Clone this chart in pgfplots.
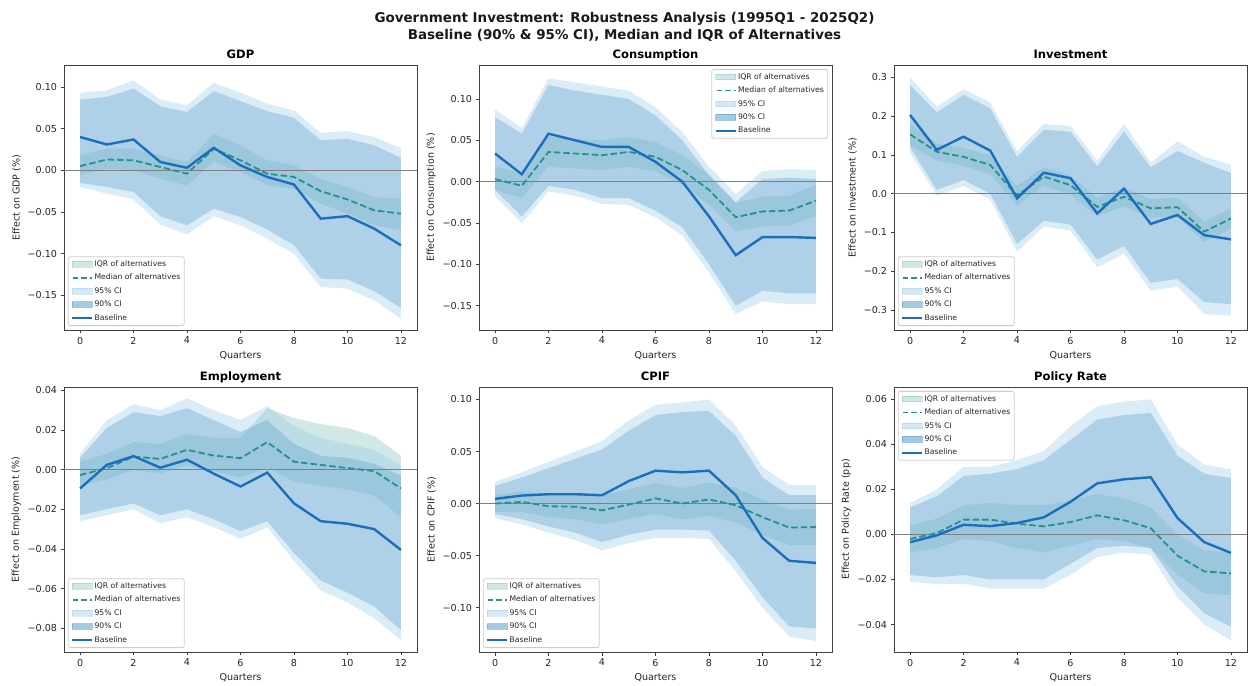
\documentclass[border=0pt]{standalone}
\usepackage{fontspec}
\setmainfont{DejaVu Sans}
\usepackage{pgfplots}
\usepackage{pgfplotstable}
\usepgfplotslibrary{fillbetween}
\pgfplotsset{compat=1.18}

\definecolor{ci95}{RGB}{150,200,230}
\definecolor{ci90}{RGB}{80,150,200}
\definecolor{iqrc}{RGB}{102,180,170}
\definecolor{medc}{RGB}{38,145,140}
\definecolor{basec}{RGB}{28,110,188}

\pgfplotstableread{
x l95 u95 l90 u90 liq uiq med base
0 -0.020 0.093 -0.015 0.085 -0.006 0.018 0.005 0.040
1 -0.028 0.096 -0.020 0.088 0.002 0.026 0.013 0.031
2 -0.035 0.108 -0.026 0.098 0.000 0.026 0.012 0.037
3 -0.065 0.085 -0.055 0.077 -0.010 0.018 0.004 0.010
4 -0.077 0.078 -0.066 0.070 -0.018 0.010 -0.004 0.003
5 -0.055 0.105 -0.046 0.095 0.010 0.044 0.026 0.027
6 -0.066 0.093 -0.056 0.083 -0.002 0.030 0.012 0.006
7 -0.082 0.080 -0.071 0.071 -0.018 0.012 -0.004 -0.008
8 -0.100 0.072 -0.090 0.063 -0.022 0.006 -0.008 -0.017
9 -0.140 0.045 -0.130 0.036 -0.040 -0.010 -0.025 -0.058
10 -0.142 0.047 -0.131 0.038 -0.052 -0.020 -0.035 -0.055
11 -0.156 0.040 -0.145 0.030 -0.066 -0.032 -0.048 -0.070
12 -0.178 0.027 -0.165 0.015 -0.072 -0.034 -0.052 -0.090
}\gdp

\pgfplotstableread{
x l95 u95 l90 u90 liq uiq med base
0 -0.018 0.087 -0.010 0.078 -0.010 0.018 0.003 0.034
1 -0.050 0.065 -0.042 0.058 -0.020 0.010 -0.005 0.009
2 -0.012 0.125 -0.005 0.117 0.018 0.055 0.036 0.058
3 -0.017 0.120 -0.010 0.110 0.016 0.052 0.034 0.050
4 -0.027 0.115 -0.020 0.105 0.014 0.050 0.032 0.042
5 -0.028 0.110 -0.020 0.100 0.018 0.054 0.036 0.042
6 -0.043 0.090 -0.035 0.080 0.012 0.048 0.030 0.024
7 -0.065 0.060 -0.055 0.050 -0.004 0.032 0.014 0.000
8 -0.110 0.018 -0.100 0.008 -0.028 0.008 -0.010 -0.042
9 -0.160 -0.015 -0.150 -0.025 -0.060 -0.026 -0.043 -0.089
10 -0.145 0.013 -0.132 0.003 -0.054 -0.018 -0.036 -0.067
11 -0.148 0.015 -0.135 0.005 -0.053 -0.017 -0.035 -0.067
12 -0.148 0.014 -0.135 0.003 -0.042 -0.004 -0.023 -0.068
}\cons

\pgfplotstableread{
x l95 u95 l90 u90 liq uiq med base
0 0.105 0.300 0.120 0.280 0.125 0.180 0.153 0.203
1 -0.005 0.225 0.010 0.210 0.085 0.130 0.108 0.113
2 0.020 0.270 0.035 0.255 0.072 0.118 0.095 0.147
3 -0.015 0.235 0.000 0.220 0.050 0.098 0.074 0.111
4 -0.150 0.110 -0.130 0.095 -0.030 0.020 -0.005 -0.012
5 -0.085 0.180 -0.070 0.165 0.020 0.068 0.044 0.054
6 -0.095 0.175 -0.080 0.160 -0.002 0.046 0.022 0.040
7 -0.190 0.085 -0.170 0.070 -0.058 -0.010 -0.034 -0.051
8 -0.155 0.180 -0.135 0.160 -0.032 0.016 -0.008 0.013
9 -0.250 0.080 -0.230 0.068 -0.062 -0.014 -0.038 -0.078
10 -0.240 0.135 -0.220 0.110 -0.060 -0.010 -0.035 -0.055
11 -0.310 0.095 -0.280 0.080 -0.125 -0.072 -0.098 -0.107
12 -0.315 0.075 -0.285 0.053 -0.090 -0.038 -0.064 -0.118
}\inv

\pgfplotstableread{
x l95 u95 l90 u90 liq uiq med base
0 -0.026 0.008 -0.023 0.006 -0.008 0.004 -0.0027 -0.0095
1 -0.023 0.025 -0.020 0.021 -0.005 0.008 0.0007 0.0024
2 -0.020 0.033 -0.017 0.029 0.000 0.014 0.0066 0.0068
3 -0.027 0.030 -0.023 0.027 -0.002 0.013 0.0054 0.0010
4 -0.024 0.036 -0.020 0.031 0.002 0.018 0.0100 0.0050
5 -0.029 0.030 -0.025 0.025 -0.001 0.016 0.0071 -0.0020
6 -0.035 0.025 -0.031 0.019 -0.004 0.016 0.0058 -0.0085
7 -0.029 0.032 -0.026 0.025 0.001 0.031 0.0139 -0.0015
8 -0.046 0.022 -0.042 0.013 -0.006 0.026 0.0040 -0.0170
9 -0.061 0.016 -0.056 0.007 -0.008 0.023 0.0024 -0.0260
10 -0.067 0.013 -0.062 0.006 -0.010 0.021 0.0008 -0.0273
11 -0.075 0.010 -0.069 0.003 -0.013 0.017 -0.0007 -0.0300
12 -0.086 0.002 -0.081 -0.003 -0.024 0.007 -0.0095 -0.0405
}\emp

\pgfplotstableread{
x l95 u95 l90 u90 liq uiq med base
0 -0.014 0.021 -0.010 0.017 -0.008 0.008 0.000 0.0045
1 -0.020 0.030 -0.015 0.025 -0.008 0.012 0.0016 0.0077
2 -0.028 0.040 -0.022 0.034 -0.013 0.009 -0.0026 0.0090
3 -0.035 0.050 -0.028 0.043 -0.015 0.010 -0.0030 0.0090
4 -0.045 0.060 -0.037 0.052 -0.020 0.008 -0.0065 0.0080
5 -0.038 0.080 -0.030 0.070 -0.015 0.014 -0.0010 0.0216
6 -0.033 0.095 -0.025 0.085 -0.010 0.020 0.0050 0.0316
7 -0.033 0.097 -0.025 0.088 -0.015 0.015 0.0000 0.0300
8 -0.034 0.100 -0.026 0.089 -0.012 0.020 0.0040 0.0316
9 -0.065 0.075 -0.055 0.065 -0.018 0.015 -0.0016 0.0080
10 -0.100 0.035 -0.090 0.025 -0.030 0.004 -0.0130 -0.0330
11 -0.128 0.018 -0.118 0.008 -0.040 -0.006 -0.0230 -0.0550
12 -0.132 0.018 -0.120 0.008 -0.040 -0.005 -0.0226 -0.0570
}\cpif

\pgfplotstableread{
x l95 u95 l90 u90 liq uiq med base
0 -0.021 0.014 -0.018 0.012 -0.008 0.004 -0.0020 -0.0034
1 -0.022 0.020 -0.019 0.017 -0.006 0.007 0.0006 -0.0004
2 -0.022 0.030 -0.018 0.026 -0.002 0.013 0.0066 0.0043
3 -0.024 0.030 -0.020 0.027 -0.003 0.014 0.0066 0.0037
4 -0.024 0.033 -0.020 0.029 -0.006 0.013 0.0048 0.0051
5 -0.024 0.037 -0.020 0.033 -0.008 0.013 0.0036 0.0076
6 -0.018 0.048 -0.013 0.042 -0.005 0.015 0.0055 0.0145
7 -0.010 0.057 -0.006 0.051 -0.002 0.018 0.0085 0.0227
8 -0.008 0.059 -0.005 0.053 -0.003 0.016 0.0063 0.0245
9 -0.009 0.060 -0.006 0.054 -0.006 0.012 0.0028 0.0254
10 -0.028 0.040 -0.023 0.035 -0.018 0.000 -0.0094 0.0073
11 -0.040 0.031 -0.035 0.027 -0.026 -0.007 -0.0164 -0.0034
12 -0.047 0.029 -0.041 0.025 -0.027 -0.008 -0.0173 -0.0082
}\pol

\newcommand\bands[2]{%
  \addplot[name path=u95#2, draw=none, forget plot] table[x=x,y=u95]{#1};
  \addplot[name path=l95#2, draw=none, forget plot] table[x=x,y=l95]{#1};
  \addplot[name path=u90#2, draw=none, forget plot] table[x=x,y=u90]{#1};
  \addplot[name path=l90#2, draw=none, forget plot] table[x=x,y=l90]{#1};
  \addplot[name path=uiq#2, draw=none, forget plot] table[x=x,y=uiq]{#1};
  \addplot[name path=liq#2, draw=none, forget plot] table[x=x,y=liq]{#1};
  \addplot[fill=iqrc, fill opacity=0.30, draw=none, forget plot] fill between[of=uiq#2 and liq#2];
  \addplot[fill=ci95, fill opacity=0.35, draw=none, forget plot] fill between[of=u95#2 and l95#2];
  \addplot[fill=ci90, fill opacity=0.31, draw=none, forget plot] fill between[of=u90#2 and l90#2];
  \addplot[black!50, line width=0.8bp, forget plot] coordinates {(-0.6,0) (12.6,0)};
  \addplot[medc, line width=1.8bp, dash pattern=on 6.5bp off 3bp, forget plot] table[x=x,y=med]{#1};
  \addplot[basec, line width=2.4bp, forget plot] table[x=x,y=base]{#1};
  \addlegendimage{legend image code/.code={\fill[iqrc, opacity=0.30, sharp corners] (0bp,-2.8bp) rectangle (20bp,2.8bp);}}
  \addlegendentry{IQR of alternatives}
  \addlegendimage{legend image code/.code={\draw[medc, line width=1.8bp, sharp corners, dash pattern=on 5.5bp off 3bp, dash phase=-1bp] (0bp,0bp) -- (20bp,0bp);}}
  \addlegendentry{Median of alternatives}
  \addlegendimage{legend image code/.code={\fill[ci95, opacity=0.40, sharp corners] (0bp,-2.8bp) rectangle (20bp,2.8bp);}}
  \addlegendentry{95\% CI}
  \addlegendimage{legend image code/.code={\fill[ci90, opacity=0.50, sharp corners] (0bp,-2.8bp) rectangle (20bp,2.8bp);}}
  \addlegendentry{90\% CI}
  \addlegendimage{legend image code/.code={\draw[basec, line width=2.4bp, sharp corners] (0bp,0bp) -- (20bp,0bp);}}
  \addlegendentry{Baseline}
}

\pgfplotsset{
  panel/.style={
    scale only axis, width=353bp, height=265bp,
    anchor=south west,
    xmin=-0.6, xmax=12.6,
    xtick={0,2,4,6,8,10,12},
    xticklabels={0,2,4,6,8,10,12},
    scaled y ticks=false,
    tick pos=left,
    tick align=outside,
    major tick length=3.5bp,
    axis line style={black!75, line width=0.8bp},
    every tick/.style={black!75, line width=0.8bp},
    ticklabel style={font=\fontsize{9.6}{11}\selectfont, text=black!85},
    label style={font=\fontsize{9.6}{11}\selectfont, text=black!85},
    title style={font=\bfseries\fontsize{11.6}{13}\selectfont, at={(0.5,1)}, anchor=base, yshift=0.5bp},
    xlabel={Quarters},
    legend cell align=left,
    legend style={font=\fontsize{7.7}{9}\selectfont, draw=black!20, rounded corners=2bp,
      fill=white, line width=0.8bp, row sep=3.4bp, inner sep=2.5bp,
      nodes={inner sep=1.4bp, text=black!85}},
  },
  llleg/.style={legend style={at={(0.011,0.015)}, anchor=south west}},
}

\begin{document}
\begin{tikzpicture}
\path (0,0) rectangle (1249bp,686bp);

\node[font=\bfseries\fontsize{13.5}{17}\selectfont, align=center, text=black!90] at (624.5bp,659.5bp)
  {Government Investment: Robustness Analysis (1995Q1 - 2025Q2)\\Baseline (90\% \& 95\% CI), Median and IQR of Alternatives};

% GDP
\begin{axis}[panel, llleg, at={(64bp,356bp)}, title={GDP},
  ymin=-0.1916, ymax=0.1264,
  ytick={-0.15,-0.10,-0.05,0,0.05,0.10},
  yticklabels={−0.15,−0.10,−0.05,0.00,0.05,0.10},
  ylabel={Effect on GDP (\%)}]
\bands{\gdp}{a}
\end{axis}

% Consumption
\begin{axis}[panel, at={(479bp,356bp)}, title={Consumption},
  legend style={at={(0.989,0.985)}, anchor=north east},
  ymin=-0.1794, ymax=0.1411,
  ytick={-0.15,-0.10,-0.05,0,0.05,0.10},
  yticklabels={−0.15,−0.10,−0.05,0.00,0.05,0.10},
  ylabel={Effect on Consumption (\%)}]
\bands{\cons}{b}
\end{axis}

% Investment
\begin{axis}[panel, llleg, at={(894bp,356bp)}, title={Investment},
  ymin=-0.3517, ymax=0.332,
  ytick={-0.3,-0.2,-0.1,0,0.1,0.2,0.3},
  yticklabels={−0.3,−0.2,−0.1,0.0,0.1,0.2,0.3},
  ylabel={Effect on Investment (\%)}]
\bands{\inv}{c}
\end{axis}

% Employment
\begin{axis}[panel, llleg, at={(64bp,34bp)}, title={Employment},
  ymin=-0.092, ymax=0.0417,
  ytick={-0.08,-0.06,-0.04,-0.02,0,0.02,0.04},
  yticklabels={−0.08,−0.06,−0.04,−0.02,0.00,0.02,0.04},
  ylabel={Effect on Employment (\%)}]
\bands{\emp}{d}
\end{axis}

% CPIF
\begin{axis}[panel, llleg, at={(479bp,34bp)}, title={CPIF},
  ymin=-0.1426, ymax=0.112,
  ytick={-0.10,-0.05,0,0.05,0.10},
  yticklabels={−0.10,−0.05,0.00,0.05,0.10},
  ylabel={Effect on CPIF (\%)}]
\bands{\cpif}{e}
\end{axis}

% Policy Rate
\begin{axis}[panel, at={(894bp,34bp)}, title={Policy Rate},
  legend style={at={(0.011,0.985)}, anchor=north west},
  ymin=-0.0522, ymax=0.0655,
  ytick={-0.04,-0.02,0,0.02,0.04,0.06},
  yticklabels={−0.04,−0.02,0.00,0.02,0.04,0.06},
  ylabel={Effect on Policy Rate (pp)}]
\bands{\pol}{f}
\end{axis}
\end{tikzpicture}
\end{document}
